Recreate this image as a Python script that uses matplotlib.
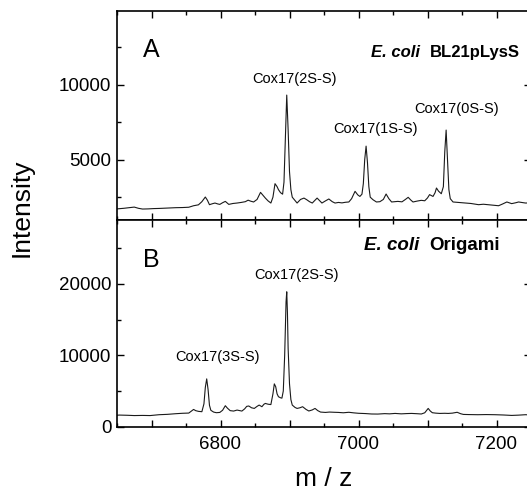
import matplotlib
matplotlib.use("Agg")
import matplotlib.pyplot as plt
from matplotlib.ticker import MultipleLocator, FuncFormatter

plt.rcParams['font.family'] = ['Liberation Sans', 'DejaVu Sans']

# spectrum A: E. coli BL21pLysS (m/z, intensity)
mz_a = [6650, 6653, 6660, 6667, 6675, 6681, 6687, 6695, 6703, 6711, 6720, 6728,
        6735, 6745, 6754, 6761, 6768, 6773, 6778, 6781, 6784, 6788, 6792, 6796,
        6799, 6803, 6807, 6812, 6818, 6824, 6830, 6836, 6840, 6844, 6848, 6853,
        6858, 6862, 6865, 6869, 6873, 6876, 6879, 6882, 6884, 6887, 6890, 6892,
        6894, 6896, 6898, 6900, 6902, 6904, 6907, 6911, 6916, 6921, 6925, 6929,
        6933, 6937, 6940, 6944, 6947, 6952, 6957, 6962, 6966, 6971, 6976, 6981,
        6986, 6990, 6995, 6999, 7002, 7005, 7007, 7009, 7011, 7013, 7015, 7017,
        7021, 7026, 7031, 7036, 7040, 7044, 7048, 7053, 7057, 7063, 7068, 7072,
        7076, 7079, 7085, 7091, 7096, 7100, 7103, 7108, 7111, 7113, 7116, 7120,
        7123, 7125, 7127, 7129, 7131, 7133, 7137, 7145, 7154, 7163, 7174, 7181,
        7188, 7196, 7203, 7209, 7215, 7222, 7228, 7232, 7238, 7242, 7250]
int_a = [1720, 1730, 1760, 1800, 1840, 1760, 1710, 1720, 1740, 1750, 1770, 1790,
         1800, 1810, 1830, 1930, 1990, 2200, 2510, 2300, 2000, 2060, 2110, 2050,
         2020, 2130, 2220, 2020, 2080, 2110, 2150, 2200, 2300, 2230, 2180, 2350,
         2820, 2600, 2440, 2250, 2110, 2500, 3400, 3200, 3000, 2800, 2700, 3500,
         6500, 9300, 7000, 4200, 3000, 2500, 2330, 2110, 2350, 2440, 2330, 2200,
         2110, 2300, 2440, 2250, 2110, 2250, 2380, 2200, 2110, 2150, 2120, 2160,
         2180, 2400, 2890, 2650, 2550, 2700, 3400, 5000, 5900, 4800, 3200, 2500,
         2330, 2180, 2200, 2350, 2710, 2400, 2180, 2200, 2220, 2190, 2350, 2490,
         2300, 2180, 2240, 2290, 2260, 2450, 2670, 2550, 2800, 3110, 2900, 2730,
         3200, 5500, 6970, 5000, 3000, 2400, 2180, 2150, 2110, 2080, 2000, 2030,
         2000, 1960, 1930, 2050, 2180, 2070, 2130, 2180, 2140, 2110, 2120]

# spectrum B: E. coli Origami
mz_b = [6650, 6653, 6665, 6675, 6687, 6698, 6711, 6723, 6735, 6745, 6754, 6758,
        6761, 6764, 6768, 6773, 6776, 6778, 6780, 6782, 6784, 6786, 6790, 6794,
        6799, 6803, 6807, 6810, 6814, 6819, 6824, 6828, 6831, 6835, 6838, 6841,
        6845, 6849, 6853, 6856, 6860, 6863, 6865, 6869, 6873, 6876, 6878, 6880,
        6882, 6884, 6887, 6889, 6891, 6893, 6895, 6896, 6897, 6898, 6900, 6902,
        6904, 6908, 6911, 6915, 6919, 6924, 6928, 6933, 6937, 6941, 6945, 6952,
        6958, 6965, 6971, 6978, 6986, 6993, 7000, 7010, 7019, 7028, 7038, 7045,
        7053, 7062, 7070, 7077, 7085, 7091, 7096, 7101, 7104, 7107, 7112, 7118,
        7125, 7130, 7136, 7143, 7148, 7152, 7160, 7173, 7185, 7198, 7210, 7222,
        7232, 7242, 7250]
int_b = [1600, 1630, 1600, 1560, 1580, 1560, 1680, 1730, 1820, 1880, 1910, 2200,
         2420, 2250, 2150, 2100, 3200, 5500, 6700, 5200, 3000, 2300, 2050, 1960,
         2000, 2300, 2940, 2600, 2250, 2190, 2330, 2250, 2190, 2500, 2850, 2900,
         2650, 2560, 2850, 3030, 2800, 3150, 3260, 3150, 3100, 4600, 6000, 5600,
         4600, 4200, 4050, 4000, 5000, 10000, 17500, 18900, 16000, 11000, 6000, 3800,
         3030, 2700, 2560, 2650, 2800, 2420, 2200, 2350, 2560, 2250, 2050, 2000,
         2050, 2020, 2000, 1950, 2020, 1940, 1880, 1840, 1780, 1770, 1830, 1800,
         1860, 1800, 1840, 1860, 1820, 1780, 1950, 2560, 2200, 1960, 1900, 1860,
         1880, 1860, 1900, 2020, 1820, 1720, 1700, 1680, 1700, 1680, 1640, 1580,
         1620, 1680, 1640]

labels_a = ['Cox17(2S-S)', 'Cox17(1S-S)', 'Cox17(0S-S)']
label_pos_a = [(6907, 10400), (7024, 7070), (7142, 8400)]
labels_b = ['Cox17(3S-S)', 'Cox17(2S-S)']
label_pos_b = [(6795, 9790), (6910, 21220)]

W, H = 527, 495
fig = plt.figure(figsize=(W / 100, H / 100), dpi=100)
left = 117 / W
width = 414 / W
axA = fig.add_axes([left, 1 - 219.7 / H, width, 208.7 / H])
axB = fig.add_axes([left, 1 - 426.7 / H, width, 207.0 / H], sharex=axA)

line_kw = dict(color='#1a1a1a', lw=0.8)
axA.plot(mz_a, int_a, **line_kw)
axB.plot(mz_b, int_b, **line_kw)

axA.set_xlim(6650, 7250)
axA.set_ylim(1000, 14900)
axB.set_ylim(0, 29000)

def xfmt(v, pos):
    return '%d' % v if round(v) % 200 == 0 else ''

for ax in (axA, axB):
    ax.xaxis.set_major_locator(MultipleLocator(100))
    ax.xaxis.set_minor_locator(MultipleLocator(50))
    ax.tick_params(which='both', direction='in', top=True, right=True,
                   labelsize=13.5, width=1)
    ax.tick_params(which='major', length=5)
    ax.tick_params(which='minor', length=3)
    ax.tick_params(axis='x', pad=7)
    ax.tick_params(axis='y', pad=4)
    for s in ax.spines.values():
        s.set_linewidth(1.2)

axA.yaxis.set_major_locator(MultipleLocator(5000))
axA.yaxis.set_minor_locator(MultipleLocator(2500))
axB.yaxis.set_major_locator(MultipleLocator(10000))
axB.yaxis.set_minor_locator(MultipleLocator(5000))
axA.tick_params(axis='x', labelbottom=False)
axB.xaxis.set_major_formatter(FuncFormatter(xfmt))

for txt, (x, y) in zip(labels_a, label_pos_a):
    axA.text(x, y, txt, ha='center', va='center', fontsize=10.5)
for txt, (x, y) in zip(labels_b, label_pos_b):
    axB.text(x, y, txt, ha='center', va='center', fontsize=10.5)

axA.text(6688, 12330, 'A', ha='left', va='center', fontsize=18)
axB.text(6688, 23320, 'B', ha='left', va='center', fontsize=18)

axA.text(7018, 12130, 'E. coli', ha='left', va='center', fontsize=12,
         fontweight='bold', fontstyle='italic')
axA.text(7104, 12130, 'BL21pLysS', ha='left', va='center', fontsize=12,
         fontweight='bold')
axB.text(7008, 25420, 'E. coli', ha='left', va='center', fontsize=13.5,
         fontweight='bold', fontstyle='italic')
axB.text(7102, 25420, 'Origami', ha='left', va='center', fontsize=13.5,
         fontweight='bold')

axB.set_xlabel('m / z', fontsize=19, labelpad=10)
fig.text(22 / W, 1 - 208 / H, 'Intensity', rotation=90, ha='center',
         va='center', fontsize=19)

fig.savefig('out.png', dpi=100)
